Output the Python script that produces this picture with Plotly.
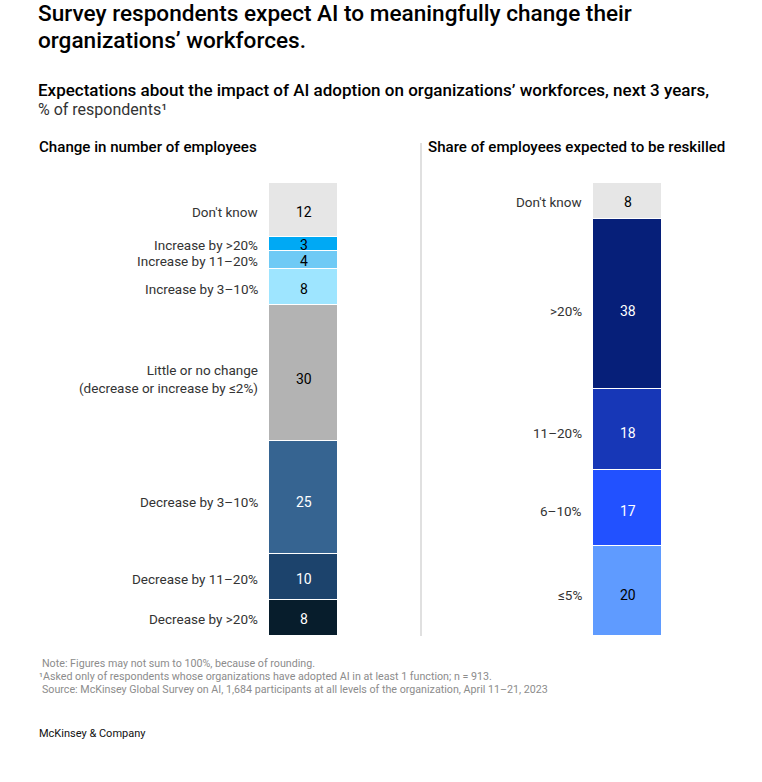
import plotly.graph_objects as go

# ---------------- data ----------------
left_labels = ["Don't know", "Increase by >20%", "Increase by 11–20%", "Increase by 3–10%",
               "Little or no change<br>(decrease or increase by ≤2%)",
               "Decrease by 3–10%", "Decrease by 11–20%", "Decrease by >20%"]
left_values = [12, 3, 4, 8, 30, 25, 10, 8]
left_colors = ["#e6e6e6", "#00a9f4", "#6fcaf5", "#9ee5ff", "#b3b3b3", "#366491", "#1c436c", "#071d2c"]
left_text_colors = ["#000", "#000", "#000", "#000", "#000", "#fff", "#fff", "#fff"]

right_labels = ["Don't know", ">20%", "11–20%", "6–10%", "≤5%"]
right_values = [8, 38, 18, 17, 20]
right_colors = ["#e6e6e6", "#061f79", "#1737b7", "#2251ff", "#5f9bff"]
right_text_colors = ["#000", "#fff", "#fff", "#fff", "#000"]

W, H = 762, 782
FONT = "Roboto"
LABEL_FRAC = 0.54  # vertical placement of labels within each segment

def px(x):
    return x / W

def py(y):
    return 1 - y / H

fig = go.Figure()

def add_stack(labels, values, colors, tcolors, xa, ya, label_x):
    cum = 0
    for lab, v, c, tc in zip(labels, values, colors, tcolors):
        fig.add_trace(go.Bar(x=[0], y=[v], marker=dict(color=c, line=dict(color="white", width=1)),
                             xaxis=xa, yaxis=ya, showlegend=False, hoverinfo="skip"))
        mid = cum + v * LABEL_FRAC
        yref = "y" if ya == "y" else "y2"
        fig.add_annotation(x=0, y=mid, xref="x" if xa == "x" else "x2", yref=yref, text=str(v),
                           showarrow=False, font=dict(family=FONT, size=14, color=tc),
                           xanchor="center", yanchor="middle")
        fig.add_annotation(x=px(label_x), y=mid, xref="paper", yref=yref, text=lab,
                           showarrow=False, font=dict(family=FONT, size=13.5, color="#333333"),
                           xanchor="right", yanchor="middle", align="right")
        cum += v

add_stack(left_labels, left_values, left_colors, left_text_colors, "x", "y", 260)
add_stack(right_labels, right_values, right_colors, right_text_colors, "x2", "y2", 584)

bar_top, bar_bot = 183, 636
fig.update_layout(
    width=W, height=H, margin=dict(l=0, r=0, t=0, b=0),
    paper_bgcolor="white", plot_bgcolor="white",
    barmode="stack", bargap=0,
    xaxis=dict(domain=[px(269), px(338)], range=[-0.5, 0.5], visible=False, fixedrange=True),
    yaxis=dict(domain=[py(bar_bot), py(bar_top)], range=[sum(left_values), 0], visible=False),
    xaxis2=dict(domain=[px(593), px(662)], range=[-0.5, 0.5], visible=False, anchor="y2"),
    yaxis2=dict(domain=[py(bar_bot), py(bar_top)], range=[sum(right_values), 0], visible=False, anchor="x2"),
)

# divider
fig.add_shape(type="line", xref="paper", yref="paper", x0=px(421), x1=px(421), y0=py(143), y1=py(636),
              line=dict(color="#e0e0e0", width=2))

def txt(x, y, s, size, color="#000", weight="normal", anchor="left"):
    fig.add_annotation(x=px(x), y=py(y), xref="paper", yref="paper", text=s, showarrow=False,
                       xanchor=anchor, yanchor="middle", align="left",
                       font=dict(family=FONT, size=size, color=color, weight=weight))

txt(36, 14, "Survey respondents expect AI to meaningfully change their", 22.6, "#000", 500)
txt(36, 41, "organizations’ workforces.", 22.6, "#000", 500)
txt(36, 90, "Expectations about the impact of AI adoption on organizations’ workforces, next 3 years,", 17, "#000", 500)
txt(36, 109, "% of respondents¹", 16, "#333333")
txt(37, 147, "Change in number of employees", 15.1, "#000", 500)
txt(426, 147, "Share of employees expected to be reskilled", 15.1, "#000", 500)
txt(40, 663, "Note: Figures may not sum to 100%, because of rounding.", 10.7, "#8c8c8c")
txt(37, 676, "¹Asked only of respondents whose organizations have adopted AI in at least 1 function; n = 913.", 10.7, "#8c8c8c")
txt(40, 689, "Source: McKinsey Global Survey on AI, 1,684 participants at all levels of the organization, April 11–21, 2023", 10.7, "#8c8c8c")
txt(37, 733, "McKinsey & Company", 11, "#111111")

fig.write_html("out.html")
